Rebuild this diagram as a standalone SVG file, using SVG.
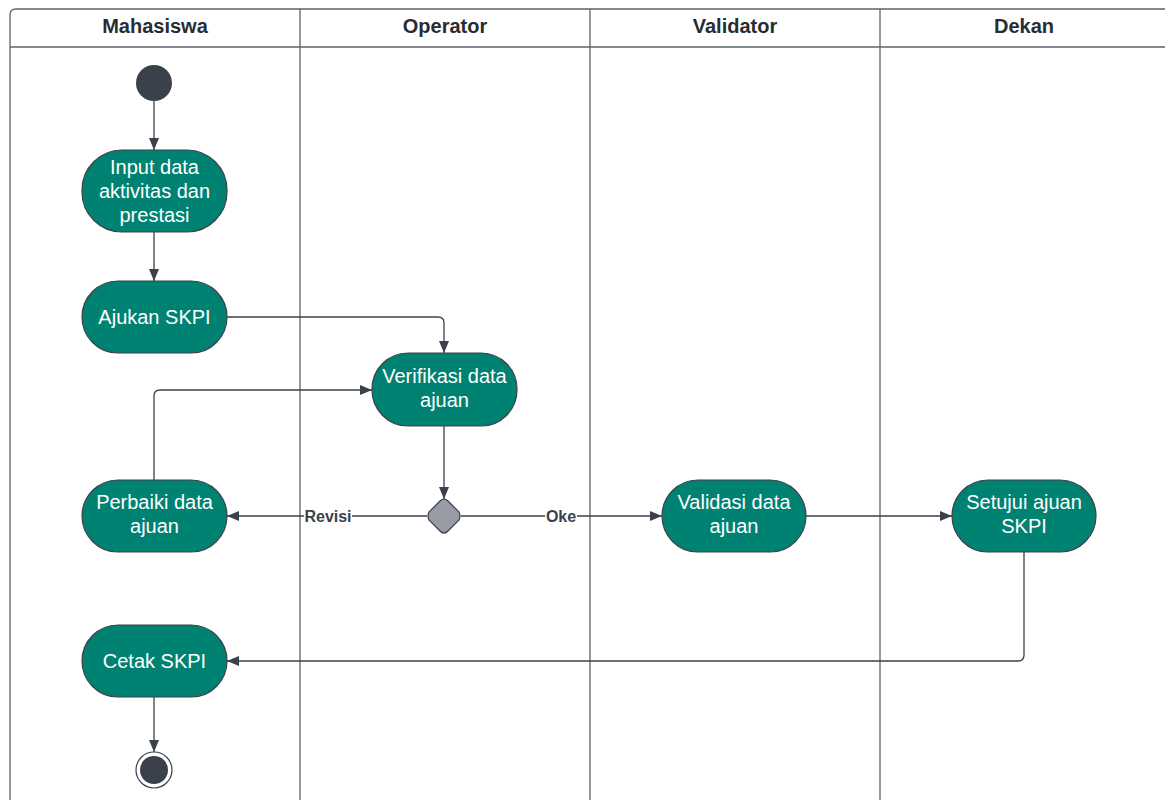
<svg xmlns="http://www.w3.org/2000/svg" width="1165" height="800" viewBox="0 0 1165 800">
<defs>
<style>
.lane{fill:none;stroke:#5e6369;stroke-width:1.3}
.hdr{font-family:"Liberation Sans",Arial,sans-serif;font-size:20px;font-weight:bold;fill:#282c33;text-anchor:middle}
.act{fill:#008272;stroke:#3a414a;stroke-width:1.2}
.txt{font-family:"Liberation Sans",Arial,sans-serif;font-size:20px;fill:#ffffff;text-anchor:middle}
.con{fill:none;stroke:#3a414a;stroke-width:1.3}
.lbl{font-family:"Liberation Sans",Arial,sans-serif;font-size:16px;font-weight:bold;fill:#3a414a;text-anchor:middle}
</style>
<marker id="arr" viewBox="0 0 12 10" refX="12" refY="5" markerWidth="12" markerHeight="10" markerUnits="userSpaceOnUse" orient="auto">
<path d="M0,0 L12,5 L0,10 Z" fill="#3a414a"/>
</marker>
</defs>
<rect width="1165" height="800" fill="#ffffff"/>
<g id="lanes">
<path class="lane" d="M10,810 L10,15 Q10,9 16,9 L1175,9"/>
<line class="lane" x1="10" y1="47" x2="1175" y2="47"/>
<line class="lane" x1="300" y1="9" x2="300" y2="810"/>
<line class="lane" x1="590" y1="9" x2="590" y2="810"/>
<line class="lane" x1="880" y1="9" x2="880" y2="810"/>
<text class="hdr" x="155" y="33">Mahasiswa</text>
<text class="hdr" x="445" y="33">Operator</text>
<text class="hdr" x="735" y="33">Validator</text>
<text class="hdr" x="1024" y="33">Dekan</text>
</g>
<g id="connectors">
<line class="con" x1="154" y1="101" x2="154" y2="150" marker-end="url(#arr)"/>
<line class="con" x1="154" y1="232" x2="154" y2="281" marker-end="url(#arr)"/>
<path class="con" d="M227,317 L438,317 Q444,317 444,323 L444,353" marker-end="url(#arr)"/>
<path class="con" d="M154,480 L154,396 Q154,390 160,390 L372,390" marker-end="url(#arr)"/>
<line class="con" x1="444" y1="426" x2="444" y2="499" marker-end="url(#arr)"/>
<line class="con" x1="427" y1="516" x2="227" y2="516" marker-end="url(#arr)"/>
<line class="con" x1="461" y1="516" x2="662" y2="516" marker-end="url(#arr)"/>
<line class="con" x1="806" y1="516" x2="952" y2="516" marker-end="url(#arr)"/>
<path class="con" d="M1024,552 L1024,655 Q1024,661 1018,661 L227,661" marker-end="url(#arr)"/>
<line class="con" x1="154" y1="697" x2="154" y2="752" marker-end="url(#arr)"/>
<rect x="304" y="507" width="48" height="18" fill="#ffffff"/>
<text class="lbl" x="328" y="522">Revisi</text>
<rect x="545" y="507" width="32" height="18" fill="#ffffff"/>
<text class="lbl" x="561" y="522">Oke</text>
</g>
<g id="start"><circle cx="154" cy="83" r="18" fill="#3a414a"/></g>
<g id="input"><rect class="act" x="82" y="150" width="145" height="82" rx="40"/>
<text class="txt" x="154.5" y="174">Input data</text><text class="txt" x="154.5" y="198">aktivitas dan</text><text class="txt" x="154.5" y="222">prestasi</text></g>
<g id="ajukan"><rect class="act" x="82" y="281" width="145" height="72" rx="36"/>
<text class="txt" x="154.5" y="324">Ajukan SKPI</text></g>
<g id="verifikasi"><rect class="act" x="372" y="353" width="145" height="73" rx="36"/>
<text class="txt" x="444.5" y="383">Verifikasi data</text><text class="txt" x="444.5" y="407">ajuan</text></g>
<g id="perbaiki"><rect class="act" x="82" y="480" width="145" height="72" rx="36"/>
<text class="txt" x="154.5" y="509">Perbaiki data</text><text class="txt" x="154.5" y="533">ajuan</text></g>
<g id="decision"><path d="M444,499 Q446,499 448,501 L459,512 Q461,516 459,520 L448,531 Q444,535 440,531 L429,520 Q427,516 429,512 L440,501 Q442,499 444,499 Z" fill="#989ca4" stroke="#3a414a" stroke-width="1.2"/></g>
<g id="validasi"><rect class="act" x="662" y="480" width="144" height="72" rx="36"/>
<text class="txt" x="734" y="509">Validasi data</text><text class="txt" x="734" y="533">ajuan</text></g>
<g id="setujui"><rect class="act" x="952" y="480" width="144" height="72" rx="36"/>
<text class="txt" x="1024" y="509">Setujui ajuan</text><text class="txt" x="1024" y="533">SKPI</text></g>
<g id="cetak"><rect class="act" x="82" y="625" width="145" height="72" rx="36"/>
<text class="txt" x="154.5" y="668">Cetak SKPI</text></g>
<g id="end"><circle cx="154" cy="770" r="18" fill="#ffffff" stroke="#3a414a" stroke-width="1.2"/><circle cx="154" cy="770" r="14" fill="#3a414a"/></g>
</svg>
